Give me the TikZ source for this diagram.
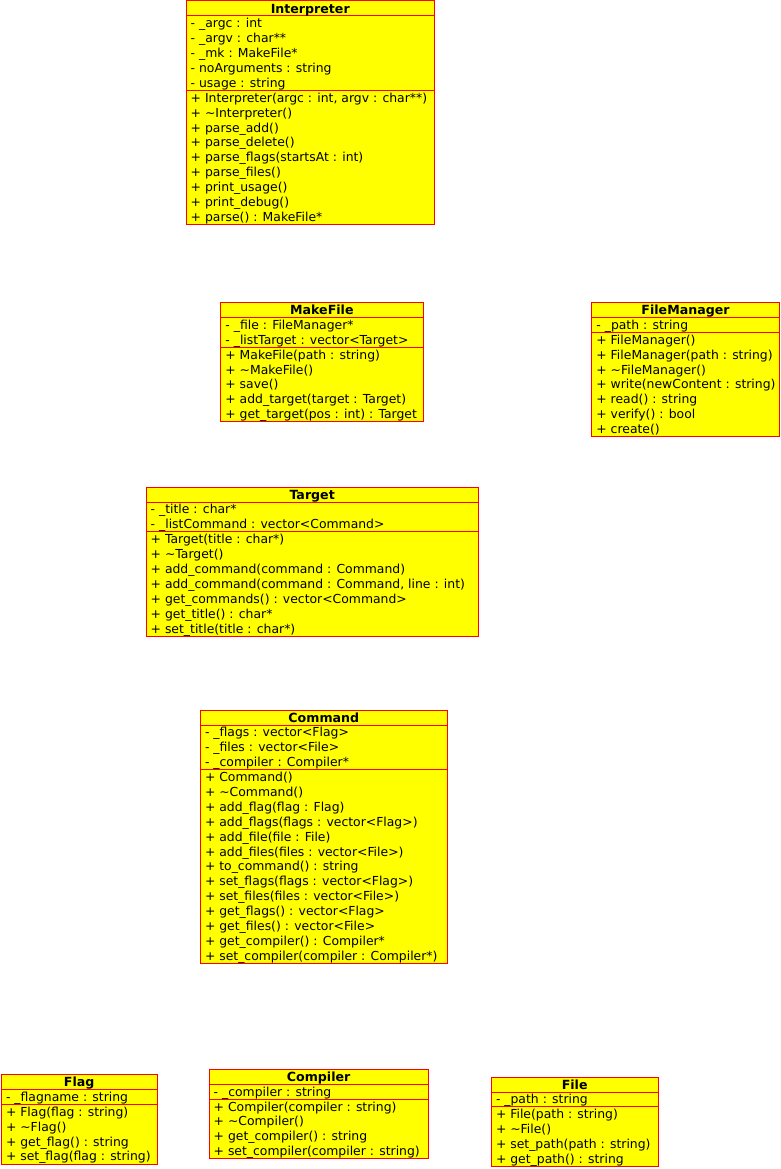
\documentclass[tikz,border=0pt]{standalone}
\usepackage{fontspec}
\setmainfont{DejaVu Sans}
\definecolor{classfill}{RGB}{255,255,0}
\definecolor{classline}{RGB}{255,0,0}
\tikzset{
  classbox/.style={draw=classline, fill=classfill, line width=1pt},
  classrule/.style={draw=classline, line width=1pt},
  classtitle/.style={anchor=base, inner sep=0pt, font=\fontsize{12.6}{15}\selectfont\bfseries},
  member/.style={anchor=base west, inner sep=0pt, font=\fontsize{12.4}{15}\selectfont},
}
% \umlclass{name}{left}{top}{right}{title}{#attributes}{#methods}{attributes}{methods}
\newcommand\umlclass[9]{%
  \pgfmathsetmacro\secA{#3+15}%
  \pgfmathsetmacro\secB{\secA+14.9*#6}%
  \pgfmathsetmacro\secC{\secB+14.9*#7}%
  \draw[classbox] (#2,#3) rectangle (#4,\secC);
  \draw[classrule] (#2,\secA) -- (#4,\secA);
  \draw[classrule] (#2,\secB) -- (#4,\secB);
  \node[classtitle] (#1-title) at ({(#2+#4)/2},#3+12.3) {#5};
  \foreach \entry [count=\i from 0] in {#8}
    \node[member] (#1-a\i) at (#2+4.5,\secA+11.8+14.9*\i) {\entry};
  \foreach \entry [count=\i from 0] in {#9}
    \node[member] (#1-m\i) at (#2+4.5,\secB+11.8+14.9*\i) {\entry};
}
\begin{document}
\begin{tikzpicture}[x=1pt,y=-1pt]
\useasboundingbox (0,0) rectangle (780,1169);

\umlclass{interp}{186}{1}{434.5}{Interpreter}{5}{9}
  {- \_argc : int, - \_argv : char**, - \_mk : MakeFile*, - noArguments : string, - usage : string}
  {{+ Interpreter(argc : int, argv : char**)}, + \textasciitilde Interpreter(), + parse\_add(),
   + parse\_delete(), + parse\_flags(startsAt : int), + parse\_files(), + print\_usage(),
   + print\_debug(), + parse() : MakeFile*}

\umlclass{makefile}{220.7}{302.5}{423}{MakeFile}{2}{5}
  {- \_file : FileManager*, - \_listTarget : vector<Target>}
  {+ MakeFile(path : string), + \textasciitilde MakeFile(), + save(),
   + add\_target(target : Target), + get\_target(pos : int) : Target}

\umlclass{filemgr}{591.7}{302.5}{779.3}{FileManager}{1}{7}
  {- \_path : string}
  {+ FileManager(), + FileManager(path : string), + \textasciitilde FileManager(),
   + write(newContent : string), + read() : string, + verify() : bool, + create()}

\umlclass{target}{146}{487}{478.3}{Target}{2}{7}
  {- \_title : char*, - \_listCommand : vector<Command>}
  {+ Target(title : char*), + \textasciitilde Target(), + add\_command(command : Command),
   {+ add\_command(command : Command, line : int)}, + get\_commands() : vector<Command>,
   + get\_title() : char*, + set\_title(title : char*)}

\umlclass{command}{200.3}{710}{447.3}{Command}{3}{13}
  {- \_flags : vector<Flag>, - \_files : vector<File>, - \_compiler : Compiler*}
  {+ Command(), + \textasciitilde Command(), + add\_flag(flag : Flag),
   + add\_flags(flags : vector<Flag>), + add\_file(file : File),
   + add\_files(files : vector<File>), + to\_command() : string,
   + set\_flags(flags : vector<Flag>), + set\_files(files : vector<File>),
   + get\_flags() : vector<Flag>, + get\_files() : vector<File>,
   + get\_compiler() : Compiler*, + set\_compiler(compiler : Compiler*)}

\umlclass{flag}{1.3}{1074.5}{157}{Flag}{1}{4}
  {- \_flagname : string}
  {+ Flag(flag : string), + \textasciitilde Flag(), + get\_flag() : string, + set\_flag(flag : string)}

\umlclass{compiler}{209}{1069.3}{428.3}{Compiler}{1}{4}
  {- \_compiler : string}
  {+ Compiler(compiler : string), + \textasciitilde Compiler(), + get\_compiler() : string,
   + set\_compiler(compiler : string)}

\umlclass{file}{491.3}{1077}{658}{File}{1}{4}
  {- \_path : string}
  {+ File(path : string), + \textasciitilde File(), + set\_path(path : string), + get\_path() : string}
\end{tikzpicture}
\end{document}
